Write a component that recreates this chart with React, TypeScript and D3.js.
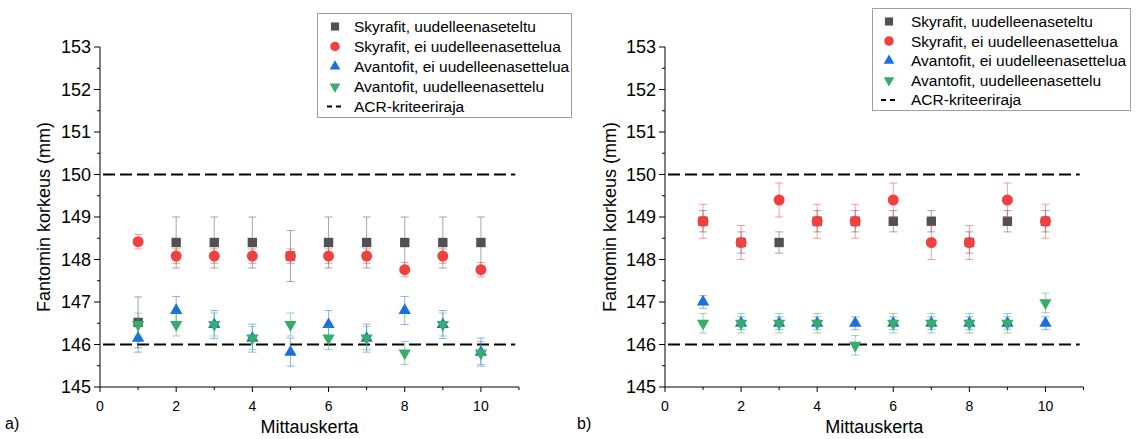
import React from "react";
import * as d3 from "d3";

// ---------- data ----------
const runs = [1, 2, 3, 4, 5, 6, 7, 8, 9, 10];
const yTicks = [145, 146, 147, 148, 149, 150, 151, 152, 153];
const xTicks = [0, 2, 4, 6, 8, 10];
const acrLimits = [146, 150];

const seriesNames = [
  "Skyrafit, uudelleenaseteltu",
  "Skyrafit, ei uudelleenasettelua",
  "Avantofit, ei uudelleenasettelua",
  "Avantofit, uudelleenasettelu",
];
const limitName = "ACR-kriteeriraja";

// panel a)
const skyReA = [146.52, 148.4, 148.4, 148.4, 148.08, 148.4, 148.4, 148.4, 148.4, 148.4];
const skyReErrA = [0.6, 0.6, 0.6, 0.6, 0.6, 0.6, 0.6, 0.6, 0.6, 0.6];
const skyNoA = [148.42, 148.08, 148.08, 148.08, 148.08, 148.08, 148.08, 147.76, 148.08, 147.76];
const skyNoErrA = [0.17, 0.17, 0.17, 0.17, 0.17, 0.17, 0.17, 0.17, 0.17, 0.17];
const avNoA = [146.15, 146.8, 146.47, 146.15, 145.82, 146.47, 146.15, 146.8, 146.47, 145.82];
const avNoErrA = [0.33, 0.33, 0.33, 0.33, 0.33, 0.33, 0.33, 0.33, 0.33, 0.33];
const avReA = [146.47, 146.47, 146.47, 146.15, 146.47, 146.15, 146.15, 145.8, 146.47, 145.8];
const avReErrA = [0.27, 0.27, 0.27, 0.27, 0.27, 0.27, 0.27, 0.27, 0.27, 0.27];

// panel b)
const skyReB = [148.9, 148.4, 148.4, 148.9, 148.9, 148.9, 148.9, 148.4, 148.9, 148.9];
const skyReErrB = [0.25, 0.25, 0.25, 0.25, 0.25, 0.25, 0.25, 0.25, 0.25, 0.25];
const skyNoB = [148.9, 148.4, 149.4, 148.9, 148.9, 149.4, 148.4, 148.4, 149.4, 148.9];
const skyNoErrB = [0.4, 0.4, 0.4, 0.4, 0.4, 0.4, 0.4, 0.4, 0.4, 0.4];
const avNoB = [147.0, 146.5, 146.5, 146.5, 146.5, 146.5, 146.5, 146.5, 146.5, 146.5];
const avNoErrB = [0.15, 0.15, 0.15, 0.15, 0.15, 0.15, 0.15, 0.15, 0.15, 0.15];
const avReB = [146.5, 146.5, 146.5, 146.5, 145.98, 146.5, 146.5, 146.5, 146.5, 146.98];
const avReErrB = [0.23, 0.23, 0.23, 0.23, 0.23, 0.23, 0.23, 0.23, 0.23, 0.23];

const colors = ["#515151", "#F14040", "#1A6FDF", "#37AD6B"];
const FONT = "'Liberation Sans', Arial, sans-serif";

type Series = { values: number[]; errors: number[] };

const symbolPath = (i: number, size: number) => {
  const types = [d3.symbolSquare, d3.symbolCircle, d3.symbolTriangle, d3.symbolTriangle];
  return d3.symbol().type(types[i]).size(size)() as string;
};
const symbolSizes = [88, 95, 66, 66];

function Marker({ i, x, y, scale = 1 }: { i: number; x: number; y: number; scale?: number }) {
  const rot = i === 3 ? " rotate(180)" : "";
  return (
    <path
      d={symbolPath(i, symbolSizes[i] * scale)}
      transform={`translate(${x},${y})${rot}`}
      fill={colors[i]}
    />
  );
}

function Panel({
  left,
  right,
  series,
  label,
  titleX,
  legend,
}: {
  left: number;
  right: number;
  series: Series[];
  label: string;
  titleX: number;
  legend: { x0: number; x1: number; y0: number; y1: number; mx: number; tx: number; ry: number; dy: number };
}) {
  const x = d3.scaleLinear().domain([0, 11]).range([left, right]);
  const y = d3.scaleLinear().domain([145, 153]).range([387, 47]);
  const minorY = d3.range(145.5, 153, 1);
  const minorX = d3.range(1, 12, 2);
  const line = d3.line<number>().x((d) => x(d)).y(() => 0);
  return (
    <g fontFamily={FONT}>
      {/* ACR limits */}
      {acrLimits.map((v) => (
        <path
          key={v}
          d={line([0.08, 10.9]) as string}
          transform={`translate(0,${y(v)})`}
          stroke="#000"
          strokeWidth={2}
          strokeDasharray="12,5"
          fill="none"
        />
      ))}
      {/* series */}
      {series.map((s, si) => (
        <g key={si}>
          {runs.map((r, k) => {
            const cx = x(r);
            const t = y(s.values[k] + s.errors[k]);
            const b = y(s.values[k] - s.errors[k]);
            return (
              <g key={k} stroke={colors[si]} strokeOpacity={0.5} strokeWidth={1}>
                <line x1={cx} x2={cx} y1={t} y2={b} />
                <line x1={cx - 4} x2={cx + 4} y1={t} y2={t} />
                <line x1={cx - 4} x2={cx + 4} y1={b} y2={b} />
              </g>
            );
          })}
          {runs.map((r, k) => (
            <Marker key={k} i={si} x={x(r)} y={y(s.values[k])} />
          ))}
        </g>
      ))}
      {/* axes */}
      <line x1={left} x2={left} y1={y(153)} y2={y(145)} stroke="#000" strokeWidth={1} />
      <line x1={left} x2={right} y1={y(145)} y2={y(145)} stroke="#000" strokeWidth={1} />
      {yTicks.map((t) => (
        <g key={t}>
          <line x1={left - 6} x2={left} y1={y(t)} y2={y(t)} stroke="#000" />
          <text x={left - 9} y={y(t)} dy="0.35em" textAnchor="end" fontSize={18} fill="#000">
            {t}
          </text>
        </g>
      ))}
      {minorY.map((t) => (
        <line key={t} x1={left - 3} x2={left} y1={y(t)} y2={y(t)} stroke="#000" />
      ))}
      {xTicks.map((t) => (
        <g key={t}>
          <line x1={x(t)} x2={x(t)} y1={y(145)} y2={y(145) + 5} stroke="#000" />
          <text x={x(t)} y={411} textAnchor="middle" fontSize={14} fill="#000">
            {t}
          </text>
        </g>
      ))}
      {minorX.map((t) => (
        <line key={t} x1={x(t)} x2={x(t)} y1={y(145)} y2={y(145) + 3} stroke="#000" />
      ))}
      <text x={(left + right) / 2} y={433} textAnchor="middle" fontSize={18} fill="#000">
        Mittauskerta
      </text>
      <text
        transform={`translate(${titleX},${(y(145) + y(153)) / 2}) rotate(-90)`}
        dy="0.35em"
        textAnchor="middle"
        fontSize={18}
        fill="#000"
      >
        Fantomin korkeus (mm)
      </text>
      <text x={label === "a)" ? 5 : 577} y={429} fontSize={16} fill="#000">
        {label}
      </text>
      {/* legend */}
      <rect
        x={legend.x0}
        y={legend.y0}
        width={legend.x1 - legend.x0}
        height={legend.y1 - legend.y0}
        fill="#fff"
        stroke="#a0a0a0"
        strokeWidth={1}
      />
      {seriesNames.map((n, i) => (
        <g key={n}>
          <Marker i={i} x={legend.mx} y={legend.ry + i * legend.dy} scale={0.75} />
          <text x={legend.tx} y={legend.ry + i * legend.dy} dy="0.35em" fontSize={15.5} fill="#000">
            {n}
          </text>
        </g>
      ))}
      <line
        x1={legend.mx - 8}
        x2={legend.mx + 8}
        y1={legend.ry + 4 * legend.dy}
        y2={legend.ry + 4 * legend.dy}
        stroke="#000"
        strokeWidth={2}
        strokeDasharray="5,4"
      />
      <text x={legend.tx} y={legend.ry + 4 * legend.dy} dy="0.35em" fontSize={15.5} fill="#000">
        {limitName}
      </text>
    </g>
  );
}

export default function App() {
  const seriesA: Series[] = [
    { values: skyReA, errors: skyReErrA },
    { values: skyNoA, errors: skyNoErrA },
    { values: avNoA, errors: avNoErrA },
    { values: avReA, errors: avReErrA },
  ];
  const seriesB: Series[] = [
    { values: skyReB, errors: skyReErrB },
    { values: skyNoB, errors: skyNoErrB },
    { values: avNoB, errors: avNoErrB },
    { values: avReB, errors: avReErrB },
  ];
  return (
    <div style={{ position: "absolute", left: 0, top: 0 }}>
      <svg width={1137} height={439} style={{ display: "block", background: "#fff" }}>
        <Panel
          left={100}
          right={519}
          series={seriesA}
          label="a)"
          titleX={44}
          legend={{ x0: 317.5, x1: 571.5, y0: 13.5, y1: 117.5, mx: 335, tx: 354, ry: 26.5, dy: 20 }}
        />
        <Panel
          left={665}
          right={1083.5}
          series={seriesB}
          label="b)"
          titleX={610}
          legend={{ x0: 872.5, x1: 1130.5, y0: 8.5, y1: 110.5, mx: 889, tx: 911, ry: 21.5, dy: 19.6 }}
        />
      </svg>
    </div>
  );
}
